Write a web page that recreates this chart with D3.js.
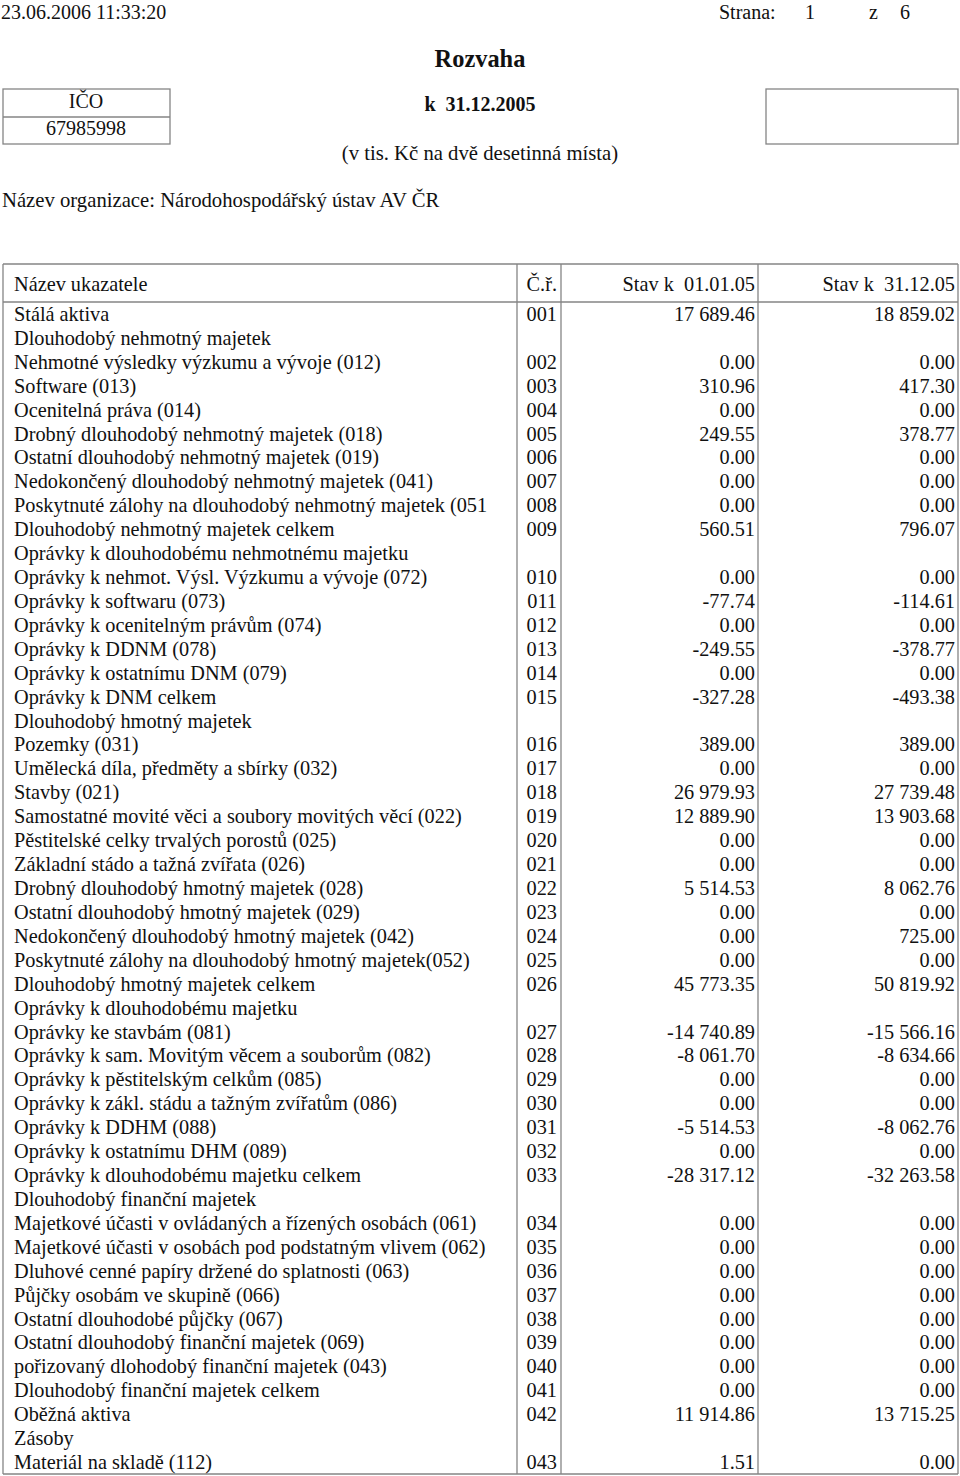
<!DOCTYPE html>
<html><head><meta charset="utf-8">
<script src="https://cdn.jsdelivr.net/npm/d3@7"></script>
<style>
html,body{margin:0;padding:0;background:#fff;}
svg{display:block;}
text{font-family:"Liberation Serif","Times New Roman",serif;fill:#111;white-space:pre;}
</style></head>
<body>
<svg id="c" width="960" height="1476"></svg>
<script>
const labels = [
"Stálá aktiva","Dlouhodobý nehmotný majetek","Nehmotné výsledky výzkumu a vývoje (012)","Software (013)",
"Ocenitelná práva (014)","Drobný dlouhodobý nehmotný majetek (018)","Ostatní dlouhodobý nehmotný majetek (019)",
"Nedokončený dlouhodobý nehmotný majetek (041)","Poskytnuté zálohy na dlouhodobý nehmotný majetek (051",
"Dlouhodobý nehmotný majetek celkem","Oprávky k dlouhodobému nehmotnému majetku","Oprávky k nehmot. Výsl. Výzkumu a vývoje (072)",
"Oprávky k softwaru (073)","Oprávky k ocenitelným právům (074)","Oprávky k DDNM (078)","Oprávky k ostatnímu DNM (079)",
"Oprávky k DNM celkem","Dlouhodobý hmotný majetek","Pozemky (031)","Umělecká díla, předměty a sbírky (032)","Stavby (021)",
"Samostatné movité věci a soubory movitých věcí (022)","Pěstitelské celky trvalých porostů (025)","Základní stádo a tažná zvířata (026)",
"Drobný dlouhodobý hmotný majetek (028)","Ostatní dlouhodobý hmotný majetek (029)","Nedokončený dlouhodobý hmotný majetek (042)",
"Poskytnuté zálohy na dlouhodobý hmotný majetek(052)","Dlouhodobý hmotný majetek celkem","Oprávky k dlouhodobému majetku",
"Oprávky ke stavbám (081)","Oprávky k sam. Movitým věcem a souborům (082)","Oprávky k pěstitelským celkům (085)",
"Oprávky k zákl. stádu a tažným zvířatům (086)","Oprávky k DDHM (088)","Oprávky k ostatnímu DHM (089)",
"Oprávky k dlouhodobému majetku celkem","Dlouhodobý finanční majetek","Majetkové účasti v ovládaných a řízených osobách (061)",
"Majetkové účasti v osobách pod podstatným vlivem (062)","Dluhové cenné papíry držené do splatnosti (063)",
"Půjčky osobám ve skupině (066)","Ostatní dlouhodobé půjčky (067)","Ostatní dlouhodobý finanční majetek (069)",
"pořizovaný dlohodobý finanční majetek (043)","Dlouhodobý finanční majetek celkem","Oběžná aktiva","Zásoby","Materiál na skladě (112)"
];
const codes = ["001","","002","003","004","005","006","007","008","009","","010","011","012","013","014","015","",
"016","017","018","019","020","021","022","023","024","025","026","","027","028","029","030","031","032","033","",
"034","035","036","037","038","039","040","041","042","","043"];
const stavStart = ["17 689.46","","0.00","310.96","0.00","249.55","0.00","0.00","0.00","560.51","","0.00","-77.74","0.00","-249.55","0.00","-327.28","",
"389.00","0.00","26 979.93","12 889.90","0.00","0.00","5 514.53","0.00","0.00","0.00","45 773.35","","-14 740.89","-8 061.70","0.00","0.00","-5 514.53","0.00","-28 317.12","",
"0.00","0.00","0.00","0.00","0.00","0.00","0.00","0.00","11 914.86","","1.51"];
const stavEnd = ["18 859.02","","0.00","417.30","0.00","378.77","0.00","0.00","0.00","796.07","","0.00","-114.61","0.00","-378.77","0.00","-493.38","",
"389.00","0.00","27 739.48","13 903.68","0.00","0.00","8 062.76","0.00","725.00","0.00","50 819.92","","-15 566.16","-8 634.66","0.00","0.00","-8 062.76","0.00","-32 263.58","",
"0.00","0.00","0.00","0.00","0.00","0.00","0.00","0.00","13 715.25","","0.00"];
const headers = ["Název ukazatele","Č.ř.","Stav k  01.01.05","Stav k  31.12.05"];

const svg = d3.select("#c");
const FS = 20.3;
const HFS = 20.7;
const lineCol = "#858585";
const SW = 1.3;

// page header
svg.append("text").attr("x",1).attr("y",19).attr("font-size",20).text("23.06.2006 11:33:20");
svg.append("text").attr("x",719).attr("y",19).attr("font-size",20).text("Strana:");
svg.append("text").attr("x",805).attr("y",19).attr("font-size",20).text("1");
svg.append("text").attr("x",869).attr("y",19).attr("font-size",20).text("z");
svg.append("text").attr("x",900).attr("y",19).attr("font-size",20).text("6");
svg.append("text").attr("x",480).attr("y",67).attr("text-anchor","middle").attr("font-size",24.4).attr("font-weight","bold").text("Rozvaha");
svg.append("text").attr("x",480).attr("y",111).attr("text-anchor","middle").attr("font-size",20).attr("font-weight","bold").text("k  31.12.2005");
svg.append("text").attr("x",480).attr("y",160).attr("text-anchor","middle").attr("font-size",HFS).text("(v tis. Kč na dvě desetinná místa)");
svg.append("text").attr("x",2).attr("y",207).attr("font-size",HFS).text("Název organizace: Národohospodářský ústav AV ČR");

// IČO box
svg.append("rect").attr("x",3).attr("y",89).attr("width",167).attr("height",55).attr("fill","none").attr("stroke",lineCol).attr("stroke-width",SW);
svg.append("line").attr("x1",3).attr("x2",170).attr("y1",117).attr("y2",117).attr("stroke",lineCol).attr("stroke-width",SW);
svg.append("text").attr("x",86).attr("y",108).attr("text-anchor","middle").attr("font-size",20).text("IČO");
svg.append("text").attr("x",86).attr("y",135).attr("text-anchor","middle").attr("font-size",20).text("67985998");
svg.append("rect").attr("x",766).attr("y",89).attr("width",192).attr("height",55).attr("fill","none").attr("stroke",lineCol).attr("stroke-width",SW);

// table
const tTop = 264, hBot = 302, tBot = 1474;
const colEdges = [3, 517, 561, 758, 958];
const y = d3.scaleBand().domain(d3.range(labels.length)).range([hBot, tBot]).padding(0);

const g = svg.append("g");
g.selectAll("line.v").data(colEdges).join("line").attr("class","v")
  .attr("x1",d=>d).attr("x2",d=>d).attr("y1",tTop).attr("y2",tBot)
  .attr("stroke",lineCol).attr("stroke-width",SW);
g.selectAll("line.h").data([tTop,hBot,tBot]).join("line").attr("class","h")
  .attr("x1",colEdges[0]).attr("x2",colEdges[4]).attr("y1",d=>d).attr("y2",d=>d)
  .attr("stroke",lineCol).attr("stroke-width",SW);

// headers
const hY = 291;
g.append("text").attr("x",14).attr("y",hY).attr("font-size",FS).text(headers[0]);
g.append("text").attr("x",557).attr("y",hY).attr("text-anchor","end").attr("font-size",FS).text(headers[1]);
g.append("text").attr("x",755).attr("y",hY).attr("text-anchor","end").attr("font-size",FS).text(headers[2]);
g.append("text").attr("x",955).attr("y",hY).attr("text-anchor","end").attr("font-size",FS).text(headers[3]);

const rows = g.selectAll("g.row").data(d3.range(labels.length)).join("g").attr("class","row")
  .attr("transform", i => `translate(0,${y(i) + y.bandwidth()/2 + 7})`);
rows.append("text").attr("x",14).attr("font-size",FS).text(i=>labels[i]);
rows.append("text").attr("x",557).attr("text-anchor","end").attr("font-size",FS).text(i=>codes[i]);
rows.append("text").attr("x",755).attr("text-anchor","end").attr("font-size",FS).text(i=>stavStart[i]);
rows.append("text").attr("x",955).attr("text-anchor","end").attr("font-size",FS).text(i=>stavEnd[i]);
</script>
</body></html>
